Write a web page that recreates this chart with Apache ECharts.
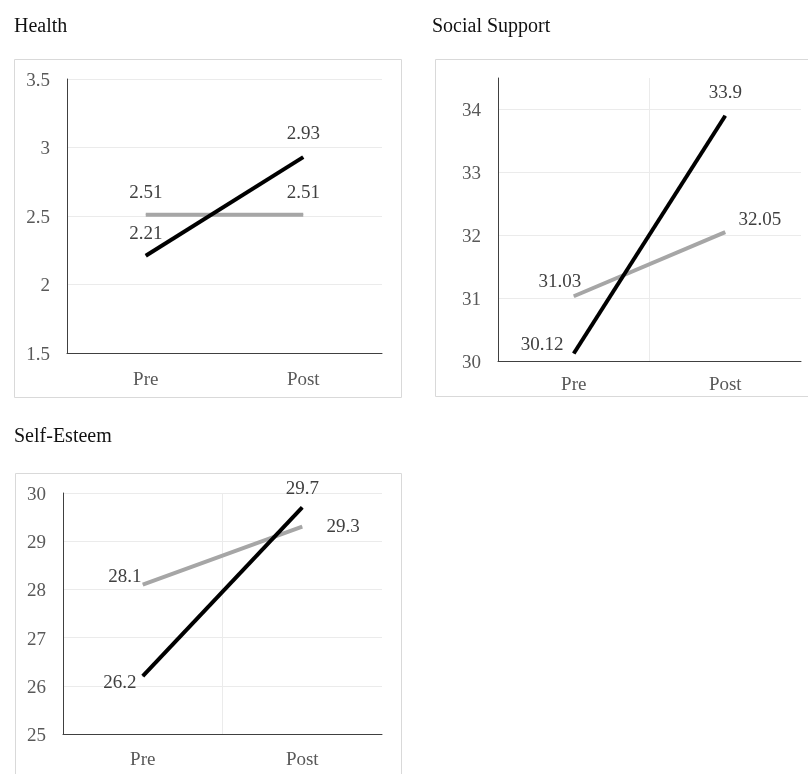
<!DOCTYPE html>
<html><head><meta charset="utf-8">
<script src="https://cdn.jsdelivr.net/npm/echarts@6/dist/echarts.min.js"></script>
<style>html,body{margin:0;padding:0;background:#fff}#c{width:808px;height:774px}</style>
</head><body><div id="c"></div>
<script>
const categories = ['Pre', 'Post'];
const panelTitles = ['Health', 'Social Support', 'Self-Esteem'];
const healthBlack = [2.21, 2.93];
const healthGray = [2.51, 2.51];
const socialBlack = [30.12, 33.9];
const socialGray = [31.03, 32.05];
const esteemBlack = [26.2, 29.7];
const esteemGray = [28.1, 29.3];
const yRanges = [[1.5, 3.5, 0.5], [30, 34.5, 1], [25, 30, 1]];

const FONT = 'Liberation Serif';
const grids = [
  {left: 67, top: 79, width: 315, height: 274},
  {left: 498, top: 78, width: 303, height: 283},
  {left: 63, top: 493, width: 319, height: 241}
];
const vSplit = [false, true, true];
const xMargins = [18, 15, 17];
const titlePos = [[14, 17], [432, 17], [14, 427]];

// label placements (styling only)
const labelStyles = {
  hb: [{position: 'top', distance: 12}, {position: 'top', distance: 13}],
  hg: [{position: 'top', distance: 12}, {position: 'top', distance: 12}],
  sb: [{position: 'left', distance: 10, offset: [0, -8]}, {position: 'top', distance: 13}],
  sg: [{position: 'top', distance: 4, offset: [-14, 0]}, {position: 'right', distance: 13, offset: [0, -12]}],
  eb: [{position: 'left', distance: 6, offset: [0, 7]}, {position: 'top', distance: 9}],
  eg: [{position: 'left', distance: 1, offset: [0, -8]}, {position: 'right', distance: 24}]
};

function mk(values, styles, color, idx, z) {
  return {
    type: 'line', xAxisIndex: idx, yAxisIndex: idx, z: z,
    data: values.map((v, i) => ({value: v, label: Object.assign({}, styles[i])})),
    symbol: 'circle', symbolSize: 0.5, showSymbol: true,
    lineStyle: {color: color, width: 4}, itemStyle: {color: color},
    label: {show: true, color: '#404040', fontSize: 19, fontFamily: FONT},
    emphasis: {disabled: true},
    animation: false
  };
}

const option = {
  animation: false,
  textStyle: {fontFamily: FONT},
  graphic: [
    {type: 'rect', shape: {x: 14.5, y: 59.5, width: 387, height: 338}, style: {fill: 'none', stroke: '#d9d9d9', lineWidth: 1}},
    {type: 'rect', shape: {x: 435.5, y: 59.5, width: 390, height: 337}, style: {fill: 'none', stroke: '#d9d9d9', lineWidth: 1}},
    {type: 'rect', shape: {x: 15.5, y: 473.5, width: 386, height: 320}, style: {fill: 'none', stroke: '#d9d9d9', lineWidth: 1}}
  ].concat(panelTitles.map((t, i) => ({
    type: 'text', left: titlePos[i][0], top: titlePos[i][1],
    style: {text: t, fill: '#111', fontFamily: FONT, fontSize: 20}
  }))),
  grid: grids,
  xAxis: grids.map((g, i) => ({
    type: 'category', gridIndex: i, data: categories, boundaryGap: true,
    axisLine: {lineStyle: {color: '#404040', width: 1}},
    axisTick: {show: false},
    axisLabel: {color: '#595959', fontSize: 19, fontFamily: FONT, margin: xMargins[i]},
    splitLine: {show: vSplit[i], showMinLine: false, showMaxLine: false, lineStyle: {color: '#ebebeb', width: 1}}
  })),
  yAxis: yRanges.map((r, i) => ({
    type: 'value', gridIndex: i, min: r[0], max: r[1], interval: r[2],
    axisLine: {show: true, lineStyle: {color: '#404040', width: 1}},
    axisTick: {show: false},
    axisLabel: {color: '#595959', fontSize: 19, fontFamily: FONT, margin: 17,
      formatter: '{a|{value}}',
      rich: {a: {color: '#595959', fontSize: 19, fontFamily: FONT, padding: [4, 0, 0, 0]}},
      showMaxLabel: i !== 1},
    splitLine: {show: true, showMaxLine: i !== 1, lineStyle: {color: '#ebebeb', width: 1}}
  })),
  series: [
    mk(healthGray, labelStyles.hg, '#a6a6a6', 0, 2),
    mk(healthBlack, labelStyles.hb, '#000000', 0, 3),
    mk(socialGray, labelStyles.sg, '#a6a6a6', 1, 2),
    mk(socialBlack, labelStyles.sb, '#000000', 1, 3),
    mk(esteemGray, labelStyles.eg, '#a6a6a6', 2, 2),
    mk(esteemBlack, labelStyles.eb, '#000000', 2, 3)
  ]
};
const chart = echarts.init(document.getElementById('c'), null, {renderer: 'canvas'});
chart.setOption(option);
</script>
</body></html>
